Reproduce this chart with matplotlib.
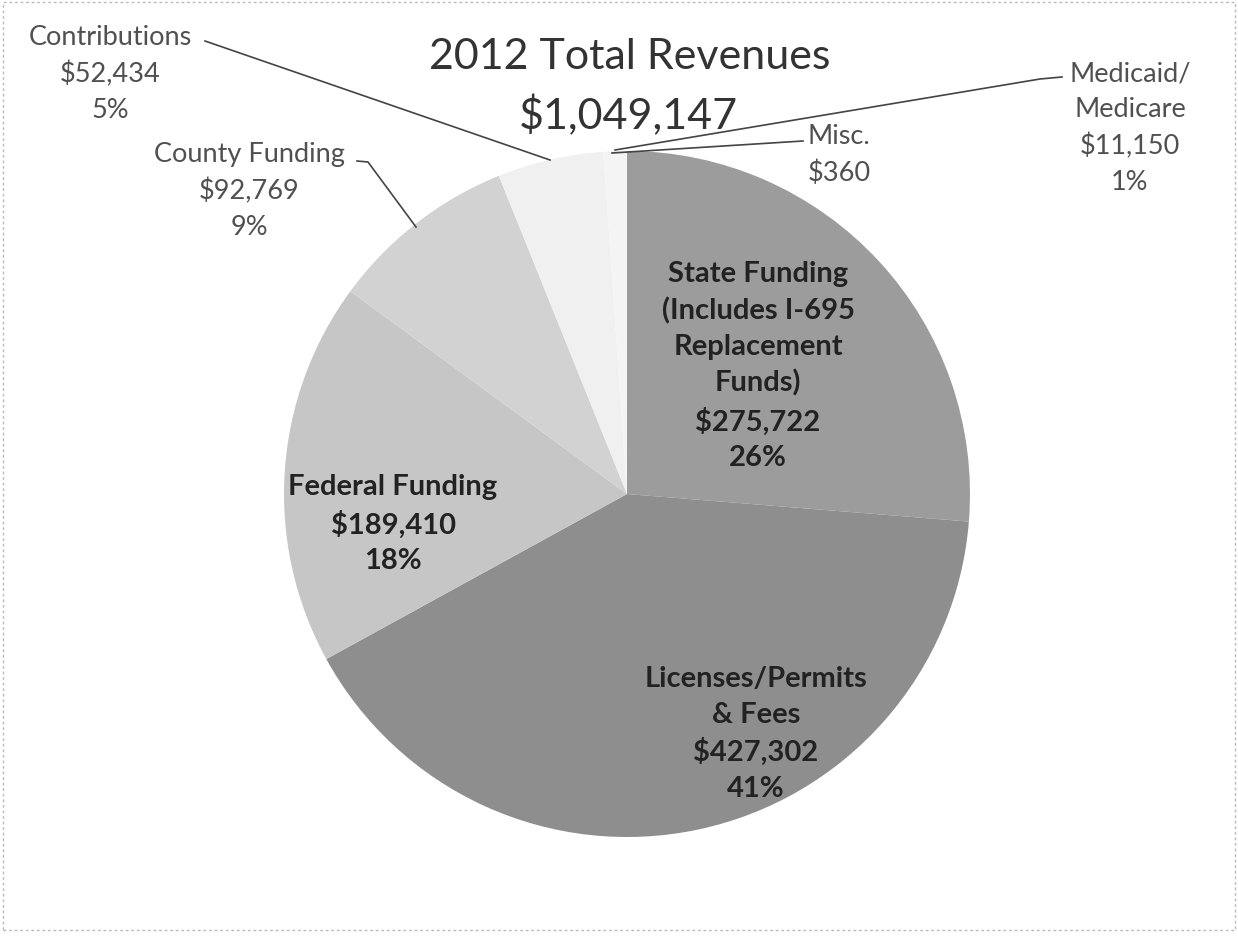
import matplotlib
matplotlib.use("Agg")
import matplotlib.pyplot as plt

categories = ["State Funding", "Licenses/Permits & Fees", "Federal Funding",
              "County Funding", "Contributions", "Medicaid/Medicare", "Misc."]
values = [275722, 427302, 189410, 92769, 52434, 11150, 360]
colors = ["#9c9c9c", "#8e8e8e", "#c6c6c6", "#d2d2d2", "#f0f0f0", "#f4f4f4", "#f4f4f4"]

W, H = 1238, 945
CX, CY, R = 627, 495, 343

fig = plt.figure(figsize=(W / 100, H / 100), dpi=100)
fig.patch.set_facecolor("white")
half = 360
ax = fig.add_axes([(CX - half) / W, (H - CY - half) / H, 2 * half / W, 2 * half / H])
lim = half / R

ax.pie(values, colors=colors, startangle=90, counterclock=False, radius=1.0,
       wedgeprops=dict(linewidth=0), center=(0, 0), frame=False)
ax.set_xlim(-lim, lim)
ax.set_ylim(-lim, lim)
ax.set_aspect("equal")
ax.axis("off")


def d(px, py):
    return ((px - CX) / R, (CY - py) / R)


font = "Lato"
inner = dict(ha="center", va="center", fontsize=21, fontweight="bold",
             color="#222222", family=font, linespacing=1.45)
outer = dict(ha="center", va="center", fontsize=19.5, color="#505050",
             family=font, linespacing=1.52)

ax.text(*d(758, 366), "State Funding\n(Includes I-695\nReplacement\nFunds)\n$275,722\n26%", **inner)
ax.text(*d(756, 734), "Licenses/Permits\n& Fees\n$427,302\n41%", **inner)
ax.text(*d(393, 524), "Federal Funding\n$189,410\n18%", **inner)

ax.text(*d(110, 74), "Contributions\n$52,434\n5%", **outer)
ax.text(*d(249, 191), "County Funding\n$92,769\n9%", **outer)
ax.text(*d(1130, 128), "Medicaid/\nMedicare\n$11,150\n1%", **outer)
ax.text(*d(839, 155), "Misc.\n$360", **outer)

lc = "#444444"
def line(pts):
    xs, ys = zip(*[d(x, y) for x, y in pts])
    ax.plot(xs, ys, color=lc, lw=1.2, clip_on=False)

line([(205, 42), (550, 161)])
line([(357, 162), (368, 163), (416, 228)])
line([(1062, 78), (1040, 80), (615, 151)])
line([(803, 142), (612, 154)])

fig.text(630 / W, 1 - 57 / H, "2012 Total Revenues", ha="center", va="center",
         fontsize=31, color="#333333", family=font)
fig.text(628 / W, 1 - 116 / H, "$1,049,147", ha="center", va="center",
         fontsize=31, color="#333333", family=font)

border = plt.Rectangle((3 / W, 14 / H), (W - 6) / W, (H - 17) / H, transform=fig.transFigure,
                       fill=False, edgecolor="#bbbbbb", lw=1, ls=(0, (2, 2)))
fig.add_artist(border)

fig.savefig("out.png", dpi=100)
